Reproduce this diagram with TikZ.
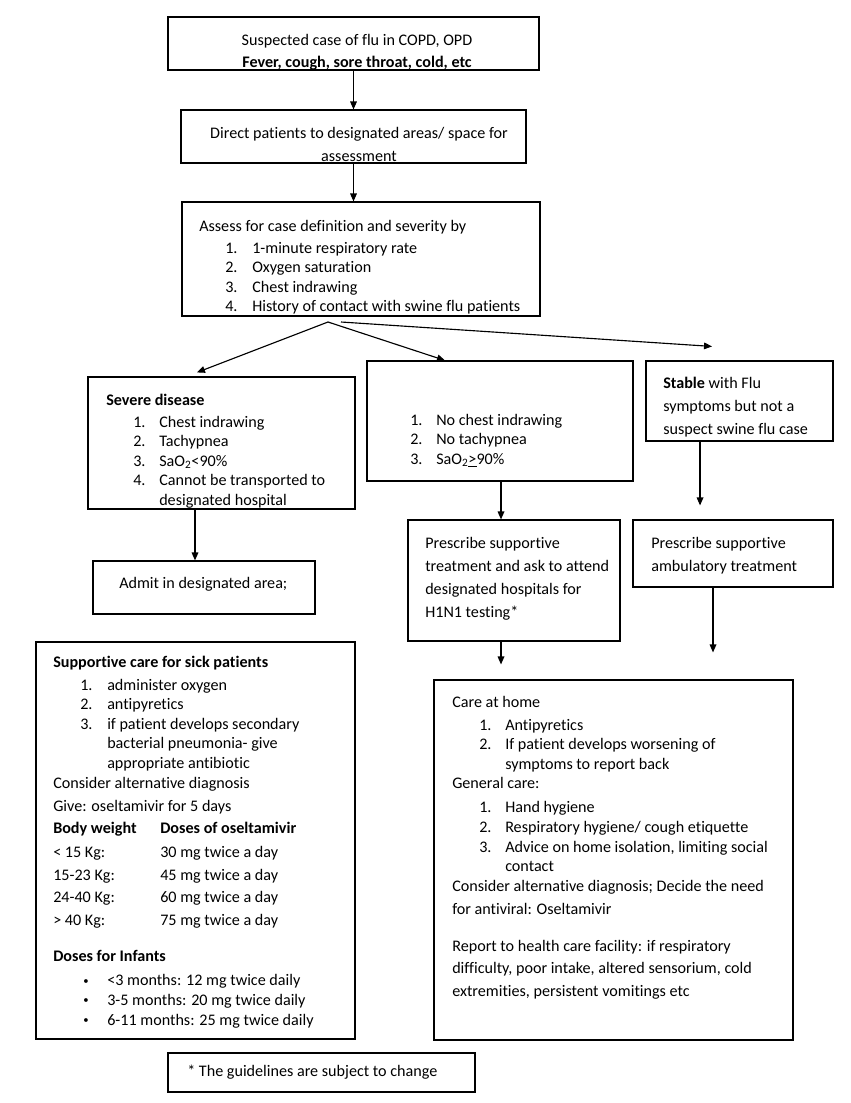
\documentclass[tikz,border=0pt]{standalone}
\usepackage{fontspec}
\setmainfont{Carlito}[Ligatures=NoCommon]
\usetikzlibrary{arrows.meta,fit}
\newcommand{\numitem}[3]{\hspace*{#1}\makebox[#2][l]{#3}}
\newcommand{\smbul}{\raisebox{1.2pt}{\fontsize{8pt}{8pt}\selectfont\textbullet}}
\tikzset{
  box/.style={draw, line width=0.85pt, inner sep=0pt},
  arr/.style={line width=0.85pt, -{Triangle[length=6pt,width=5pt]}},
  txt/.style={inner sep=0pt, anchor=base west, font=\fontsize{12.1pt}{14.7pt}\selectfont},
  ctxt/.style={inner sep=0pt, anchor=base, font=\fontsize{12.1pt}{14.7pt}\selectfont}
}
\newcommand{\pb}[1]{\parbox[t]{330pt}{\raggedright #1}}
\newcommand{\pbc}[1]{\parbox[t]{330pt}{\centering #1}}
\begin{document}
\begin{tikzpicture}[x=0.75pt,y=-0.75pt]
\useasboundingbox (0,0) rectangle (850,1103);
\fill[white] (0,0) rectangle (850,1103);

% boxes
\node[box, fit={(168,17) (539,70)}] (b1) {};
\node[box, fit={(181,110) (526,163)}] (b2) {};
\node[box, fit={(182,202) (540,316)}] (b3) {};
\node[box, fit={(88,377) (355,509)}] (severe) {};
\node[box, fit={(367,361) (633,481)}] (mid) {};
\node[box, fit={(646,361) (833,441)}] (stable) {};
\node[box, fit={(93,561) (315,614)}] (admit) {};
\node[box, fit={(408,520) (620,641)}] (presc1) {};
\node[box, fit={(633,520) (833,587)}] (presc2) {};
\node[box, fit={(434,680) (793,1040)}] (care) {};
\node[box, fit={(36,642) (355,1039)}] (support) {};
\node[box, fit={(168,1053) (475,1092)}] (foot) {};

% texts
\node[ctxt] (t1) at (357,45) {\pbc{Suspected case of flu in COPD, OPD\\[1.8pt]\textbf{Fever, cough, sore throat, cold, etc}}};
\node[ctxt] (t2) at (359,138) {\pbc{Direct patients to designated areas/ space for\\[2.55pt]assessment}};
\node[txt] (t3) at (199,231) {\pb{Assess for case definition and severity by\\[1.8pt]
\numitem{19.5pt}{20.25pt}{1.}1-minute respiratory rate\\
\numitem{19.5pt}{20.25pt}{2.}Oxygen saturation\\
\numitem{19.5pt}{20.25pt}{3.}Chest indrawing\\
\numitem{19.5pt}{20.25pt}{4.}History of contact with swine flu patients}};
\node[txt] (tsev) at (106,405) {\pb{\textbf{Severe disease}\\[1.8pt]
\numitem{20.25pt}{19.5pt}{1.}Chest indrawing\\
\numitem{20.25pt}{19.5pt}{2.}Tachypnea\\
\numitem{20.25pt}{19.5pt}{3.}SaO\textsubscript{2}<90\%\\
\numitem{20.25pt}{19.5pt}{4.}Cannot be transported to\\
\hspace*{39.75pt}designated hospital}};
\node[txt] (tmid) at (410,425) {\pb{\makebox[19.5pt][l]{1.}No chest indrawing\\
\makebox[19.5pt][l]{2.}No tachypnea\\
\makebox[19.5pt][l]{3.}SaO\textsubscript{2}\underline{>}90\%}};
\node[txt] (tstab) at (663,388) {\pb{\textbf{Stable} with Flu\\[2.55pt]symptoms but not a\\[2.55pt]suspect swine flu case}};
\node[txt] (tadm) at (119,588) {Admit in designated area;};
\node[txt] (tp1) at (425,548) {\pb{Prescribe supportive\\[2.55pt]treatment and ask to attend\\[2.55pt]designated hospitals for\\[2.55pt]H1N1 testing*}};
\node[txt] (tp2) at (651,548) {\pb{Prescribe supportive\\[2.55pt]ambulatory treatment}};
\node[txt] (tsup) at (53,667) {\pb{\textbf{Supportive care for sick patients}\\[2.55pt]
\numitem{20.25pt}{20.25pt}{1.}administer oxygen\\
\numitem{20.25pt}{20.25pt}{2.}antipyretics\\
\numitem{20.25pt}{20.25pt}{3.}if patient develops secondary\\
\hspace*{40.5pt}bacterial pneumonia- give\\
\hspace*{40.5pt}appropriate antibiotic\\
Consider alternative diagnosis\\[2.55pt]
Give: oseltamivir for 5 days\\[1.8pt]
\makebox[80.25pt][l]{\textbf{Body weight}}\textbf{Doses of oseltamivir}\\[3.3pt]
\makebox[80.25pt][l]{< 15 Kg:}30 mg twice a day\\[2.55pt]
\makebox[80.25pt][l]{15-23 Kg:}45 mg twice a day\\[1.8pt]
\makebox[80.25pt][l]{24-40 Kg:}60 mg twice a day\\[2.55pt]
\makebox[80.25pt][l]{> 40 Kg:}75 mg twice a day\\[13pt]
\textbf{Doses for Infants}\\[3.3pt]
\hspace*{22.5pt}\makebox[18pt][l]{\smbul}<3 months: 12 mg twice daily\\
\hspace*{22.5pt}\makebox[18pt][l]{\smbul}3-5 months: 20 mg twice daily\\
\hspace*{22.5pt}\makebox[18pt][l]{\smbul}6-11 months: 25 mg twice daily}};
\node[txt] (tcare) at (452,707) {\pb{Care at home\\[2.55pt]
\numitem{20.25pt}{19.5pt}{1.}Antipyretics\\
\numitem{20.25pt}{19.5pt}{2.}If patient develops worsening of\\
\hspace*{39.75pt}symptoms to report back\\
General care:\\[3.3pt]
\numitem{20.25pt}{19.5pt}{1.}Hand hygiene\\
\numitem{20.25pt}{19.5pt}{2.}Respiratory hygiene/ cough etiquette\\
\numitem{20.25pt}{19.5pt}{3.}Advice on home isolation, limiting social\\
\hspace*{39.75pt}contact\\
Consider alternative diagnosis; Decide the need\\[2.55pt]
for antiviral: Oseltamivir\\[13pt]
Report to health care facility: if respiratory\\[1.8pt]
difficulty, poor intake, altered sensorium, cold\\[2.55pt]
extremities, persistent vomitings etc}};
\node[txt] (tfoot) at (187,1076) {* The guidelines are subject to change};

% connectors
\draw[arr] (b1.south) -- (b2.north);
\draw[arr] (b2.south) -- (b2.south |- b3.north);
\coordinate (apex) at (328,322);
\coordinate (apex2) at (341,322);
\draw[arr] (apex) -- ([xshift=-18.4pt,yshift=3pt]severe.north);
\draw[arr] (apex) -- ([xshift=-41.25pt]mid.north);
\draw[arr] (apex2) -- ([xshift=-20.6pt,yshift=10.5pt]stable.north);
\draw[arr] ([xshift=-19.875pt]severe.south) coordinate (sa) -- (sa |- admit.north);
\draw[arr] ([xshift=0.75pt]mid.south) coordinate (mp) -- (mp |- presc1.north);
\draw[arr, shorten >=10.5pt] ([xshift=-29.6pt]stable.south) coordinate (sp) -- (sp |- presc2.north);
\draw[arr, shorten >=11.25pt] ([xshift=-9.75pt]presc1.south) coordinate (pc1) -- (pc1 |- care.north);
\draw[arr, shorten >=20.25pt] ([xshift=-15pt]presc2.south) coordinate (pc2) -- (pc2 |- care.north);
\end{tikzpicture}
\end{document}
